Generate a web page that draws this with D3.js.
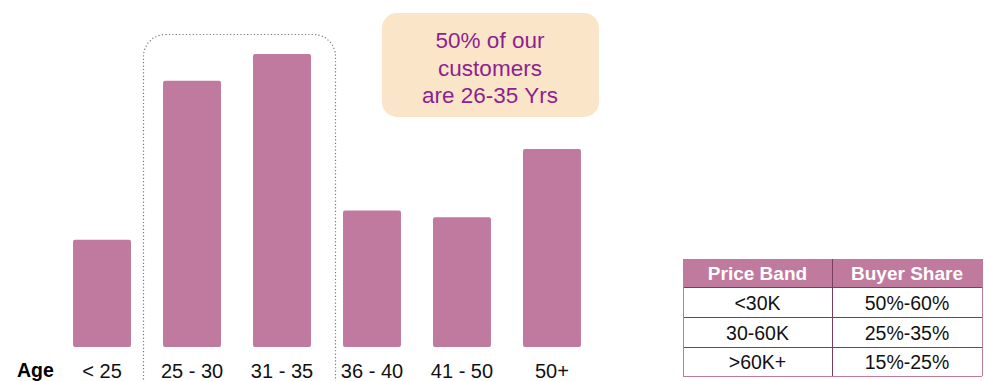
<!DOCTYPE html>
<html>
<head>
<meta charset="utf-8">
<script src="https://cdn.jsdelivr.net/npm/d3@7"></script>
<style>
  body { margin: 0; background: #fff; }
  text { font-family: 'Liberation Sans', Arial, sans-serif; }
</style>
</head>
<body>
<svg id="chart" width="984" height="381"></svg>
<script>
// age groups and share of customers (%)
const ageGroups = ['< 25', '25 - 30', '31 - 35', '36 - 40', '41 - 50', '50+'];
const customerShare = [9.6, 23.8, 26.2, 12.2, 11.6, 17.7];

// callout
const calloutLines = ['50% of our', 'customers', 'are 26-35 Yrs'];

// price band table
const tableHeader = ['Price Band', 'Buyer Share'];
const priceBands = ['<30K', '30-60K', '>60K+'];
const buyerShares = ['50%-60%', '25%-35%', '15%-25%'];

const svg = d3.select('#chart');
const barColor = '#c17a9f';
const baseline = 347;

const x = d3.scaleBand()
  .domain(ageGroups)
  .range([41, 613])
  .paddingInner(0.356)
  .paddingOuter(0.356);

const y = d3.scaleLinear()
  .domain([0, 26.2])
  .range([baseline, 54]);

// dotted highlight around 25-35
svg.append('rect')
  .attr('x', 143.5)
  .attr('y', 34.5)
  .attr('width', 192)
  .attr('height', 380)
  .attr('rx', 22)
  .attr('fill', 'none')
  .attr('stroke', '#777')
  .attr('stroke-width', 1.2)
  .attr('stroke-dasharray', '1.2,2.2');

// bars
svg.selectAll('.bar')
  .data(customerShare)
  .join('rect')
  .attr('class', 'bar')
  .attr('x', (d, i) => x(ageGroups[i]))
  .attr('y', d => y(d))
  .attr('width', x.bandwidth())
  .attr('height', d => baseline - y(d))
  .attr('rx', 2)
  .attr('fill', barColor);

// x labels
svg.append('text')
  .attr('x', 17)
  .attr('y', 377)
  .attr('font-size', 19.5)
  .attr('font-weight', 'bold')
  .text('Age');

svg.selectAll('.xlabel')
  .data(ageGroups)
  .join('text')
  .attr('class', 'xlabel')
  .attr('x', d => x(d) + x.bandwidth() / 2)
  .attr('y', 378)
  .attr('text-anchor', 'middle')
  .attr('font-size', 20)
  .attr('fill', '#111')
  .text(d => d);

// callout box
svg.append('rect')
  .attr('x', 382)
  .attr('y', 13)
  .attr('width', 217)
  .attr('height', 104)
  .attr('rx', 15)
  .attr('fill', '#fbe5c9');

svg.selectAll('.callout')
  .data(calloutLines)
  .join('text')
  .attr('class', 'callout')
  .attr('x', 490)
  .attr('y', (d, i) => 48 + i * 27.5)
  .attr('text-anchor', 'middle')
  .attr('font-size', 22.5)
  .attr('fill', '#8e1f8e')
  .text(d => d);

// table
const colX = [683, 832, 982];
const rowY = [259, 287, 317, 347, 376];
const border = '#7a3d5e';

svg.append('rect')
  .attr('x', colX[0])
  .attr('y', rowY[0])
  .attr('width', colX[2] - colX[0])
  .attr('height', rowY[1] - rowY[0])
  .attr('fill', '#c07a9e');

tableHeader.forEach((h, j) => {
  svg.append('text')
    .attr('x', (colX[j] + colX[j + 1]) / 2)
    .attr('y', rowY[1] - 7)
    .attr('text-anchor', 'middle')
    .attr('font-size', 19)
    .attr('font-weight', 'bold')
    .attr('fill', '#fff')
    .text(h);
});

priceBands.forEach((p, i) => {
  const cells = [p, buyerShares[i]];
  cells.forEach((c, j) => {
    svg.append('text')
      .attr('x', (colX[j] + colX[j + 1]) / 2)
      .attr('y', rowY[i + 2] - 7)
      .attr('text-anchor', 'middle')
      .attr('font-size', 19.5)
      .attr('fill', '#111')
      .text(c);
  });
});

// table grid lines
rowY.forEach((ry, i) => {
  svg.append('line')
    .attr('x1', colX[0]).attr('x2', colX[2])
    .attr('y1', ry + 0.5).attr('y2', ry + 0.5)
    .attr('stroke', i === 0 || i === rowY.length - 1 ? '#c07a9e' : border)
    .attr('stroke-width', 1);
});
colX.forEach((cx, j) => {
  svg.append('line')
    .attr('x1', cx + 0.5).attr('x2', cx + 0.5)
    .attr('y1', rowY[0]).attr('y2', rowY[rowY.length - 1])
    .attr('stroke', j === 1 ? border : '#c07a9e')
    .attr('stroke-width', 1);
});
</script>
</body>
</html>
